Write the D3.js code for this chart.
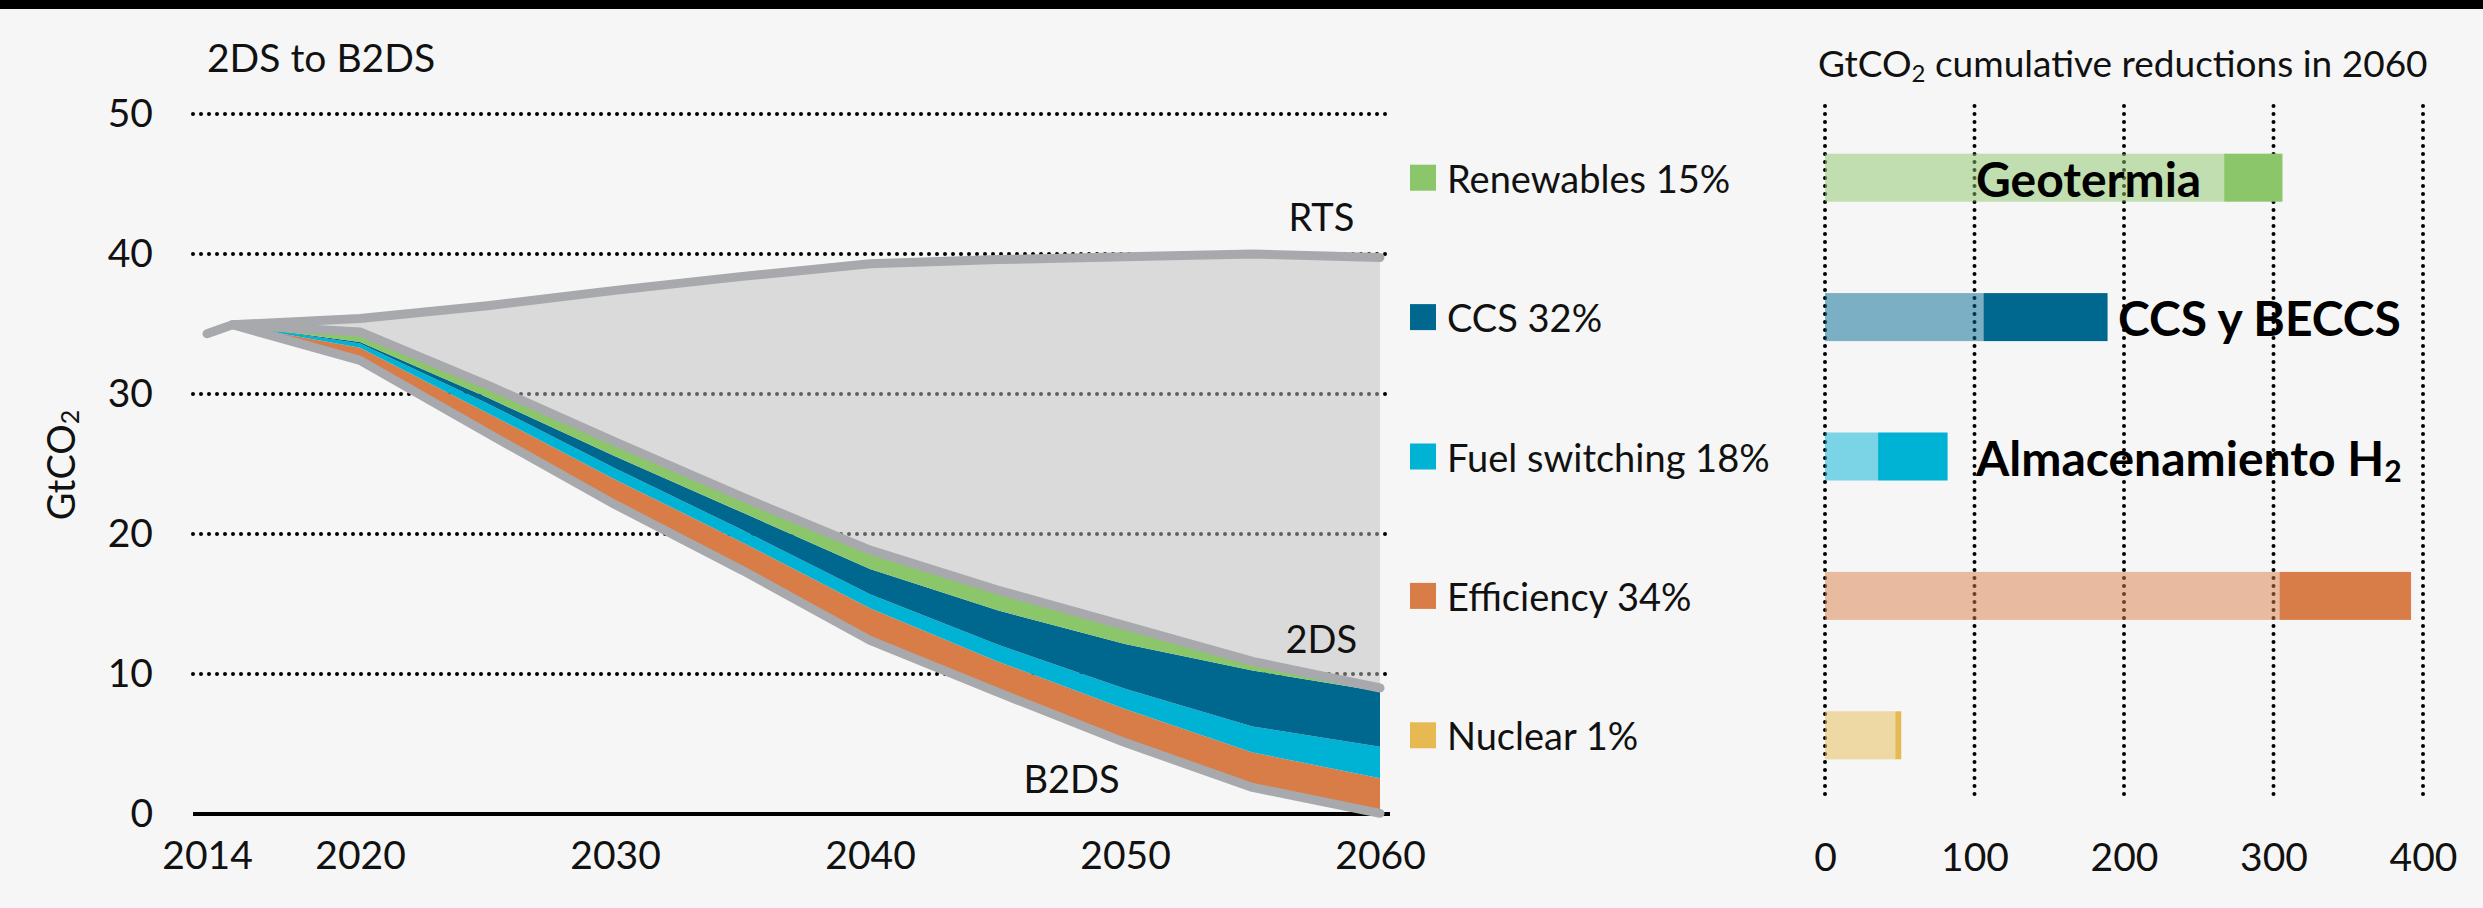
<!DOCTYPE html>
<html>
<head>
<meta charset="utf-8">
<script src="https://cdn.jsdelivr.net/npm/d3@7"></script>
<style>
  body { margin: 0; background: #f6f6f6; }
  svg { display: block; font-family: Lato, "Open Sans", sans-serif; }
</style>
</head>
<body>
<div id="graph"></div>
<script>
const width = 2483,
      height = 908

// left panel: emissions pathways, GtCO2
const years = [2014, 2015, 2020, 2025, 2030, 2035, 2040, 2045, 2050, 2055, 2060]
const rts = [34.3, 34.95, 35.4, 36.3, 37.4, 38.4, 39.3, 39.6, 39.8, 40.0, 39.75]
const b2ds = [34.3, 34.95, 32.4, 27.2, 22.1, 17.4, 12.4, 8.7, 5.1, 1.9, 0.05]
const efficiency = [0, 0, 0.9, 1.45, 1.8, 2.0, 2.3, 2.2, 2.4, 2.5, 2.5]
const fuel_switching = [0, 0, 0.31, 0.68, 0.8, 0.88, 1.0, 1.2, 1.45, 1.85, 2.25]
const ccs = [0, 0, 0.1, 0.42, 0.85, 1.25, 1.8, 2.45, 3.2, 4.0, 3.95]
const renewables = [0, 0, 0.7, 0.85, 1.0, 1.05, 1.3, 1.4, 1.25, 0.6, 0.2]
const nuclear = [0, 0, 0.02, 0.03, 0.04, 0.05, 0.05, 0.05, 0.05, 0.05, 0.05]

const y_ticks = [0, 10, 20, 30, 40, 50]
const x_ticks = [2014, 2020, 2030, 2040, 2050, 2060]

// right panel: cumulative reductions in 2060, GtCO2
const measures = ["Renewables", "CCS", "Fuel switching", "Efficiency", "Nuclear"]
const shares = ["15%", "32%", "18%", "34%", "1%"]
const reductions_light = [267, 106, 35.5, 304, 47]
const reductions_total = [306, 189, 82, 392, 51]
const r_ticks = [0, 100, 200, 300, 400]
const callouts = ["Geotermia", "CCS y BECCS", "Almacenamiento H", null, null]
const callout_at = [101, 196, 101, null, null]

const colors = {
    efficiency: "#d97d48",
    fuel_switching: "#00b2d3",
    ccs: "#00678f",
    renewables: "#8cc66a",
    nuclear: "#e6b952"
}
const measure_color = [colors.renewables, colors.ccs, colors.fuel_switching, colors.efficiency, colors.nuclear]
const line_gray = "#a7a9ac"

const svg = d3.select("#graph")
    .append("svg")
    .attr("width", width)
    .attr("height", height)

svg.append("rect").attr("width", width).attr("height", height).attr("fill", "#f6f6f6")
svg.append("rect").attr("width", width).attr("height", 9).attr("fill", "#000")

// ---------- left panel ----------
const x = d3.scaleLinear().domain([2014, 2060]).range([207, 1380])
const y = d3.scaleLinear().domain([0, 50]).range([814, 114])

const rows = years.map((year, i) => ({
    year,
    rts: rts[i],
    base: b2ds[i],
    efficiency: efficiency[i],
    fuel_switching: fuel_switching[i],
    ccs: ccs[i],
    renewables: renewables[i],
    nuclear: nuclear[i]
}))
const keys = ["base", "efficiency", "fuel_switching", "ccs", "renewables", "nuclear"]
const stacked = d3.stack().keys(keys)(rows)
const top_layer = stacked[stacked.length - 1]
rows.forEach((d, i) => d.two_ds = top_layer[i][1])

svg.append("g")
    .selectAll("line")
    .data(y_ticks.filter(d => d > 0))
    .join("line")
    .attr("x1", 193)
    .attr("x2", 1386)
    .attr("y1", d => y(d))
    .attr("y2", d => y(d))
    .attr("stroke", "#000")
    .attr("stroke-width", 4)
    .attr("stroke-linecap", "round")
    .attr("stroke-dasharray", "0,8")

const after_2015 = rows.filter(d => d.year >= 2015)

svg.append("path")
    .datum(after_2015)
    .attr("fill", "#bebebe")
    .attr("fill-opacity", 0.5)
    .attr("d", d3.area()
        .x(d => x(d.year))
        .y0(d => y(d.two_ds))
        .y1(d => y(d.rts)))

svg.append("g")
    .selectAll("path")
    .data(stacked.slice(1))
    .join("path")
    .attr("fill", d => colors[d.key])
    .attr("d", d3.area()
        .x(d => x(d.data.year))
        .y0(d => y(d[0]))
        .y1(d => y(d[1])))

svg.append("line")
    .attr("x1", 193)
    .attr("x2", 1390)
    .attr("y1", y(0))
    .attr("y2", y(0))
    .attr("stroke", "#000")
    .attr("stroke-width", 4)

const draw_line = (data, value) => svg.append("path")
    .datum(data)
    .attr("fill", "none")
    .attr("stroke", line_gray)
    .attr("stroke-width", 9)
    .attr("stroke-linecap", "round")
    .attr("stroke-linejoin", "round")
    .attr("d", d3.line().x(d => x(d.year)).y(d => y(value(d))))

draw_line(after_2015, d => d.base)
draw_line(after_2015, d => d.two_ds)
draw_line(rows, d => d.rts)

const y_axis = svg.append("g")
    .attr("transform", `translate(193, 0)`)
    .call(d3.axisLeft(y).tickValues(y_ticks).tickSize(0).tickPadding(40))
y_axis.select(".domain").remove()

const x_axis = svg.append("g")
    .attr("transform", `translate(0, ${y(0)})`)
    .call(d3.axisBottom(x).tickValues(x_ticks).tickFormat(d3.format("d")).tickSize(0).tickPadding(27))
x_axis.select(".domain").remove()

svg.selectAll(".tick text")
    .attr("font-family", "Lato, sans-serif")
    .attr("font-size", 39)
    .attr("fill", "#111")

svg.append("text")
    .attr("x", 207)
    .attr("y", 57)
    .attr("dominant-baseline", "central")
    .attr("font-size", 39)
    .attr("fill", "#111")
    .text("2DS to B2DS")

const y_title = svg.append("text")
    .attr("transform", `translate(60, 465) rotate(-90)`)
    .attr("text-anchor", "middle")
    .attr("dominant-baseline", "central")
    .attr("font-size", 38)
    .attr("fill", "#111")
y_title.append("tspan").text("GtCO")
y_title.append("tspan").attr("font-size", 25).attr("dy", 9).text("2")

const last = rows[rows.length - 1]
const scenario_labels = [
    { text: "RTS", year: 2057.7, value: last.rts + 3 },
    { text: "2DS", year: 2057.7, value: last.two_ds + 3.6 },
    { text: "B2DS", year: 2047.9, value: 2.6 }
]
svg.append("g")
    .selectAll("text")
    .data(scenario_labels)
    .join("text")
    .attr("x", d => x(d.year))
    .attr("y", d => y(d.value))
    .attr("text-anchor", "middle")
    .attr("dominant-baseline", "central")
    .attr("font-size", 38)
    .attr("fill", "#111")
    .text(d => d.text)

// ---------- right panel ----------
const xr = d3.scaleLinear().domain([0, 400]).range([1825, 2423])
const yr = d3.scalePoint().domain(measures).range([108, 805]).padding(0.5)
const bar_h = 48

svg.append("g")
    .selectAll("line")
    .data(r_ticks)
    .join("line")
    .attr("x1", d => xr(d))
    .attr("x2", d => xr(d))
    .attr("y1", 106)
    .attr("y2", 802)
    .attr("stroke", "#000")
    .attr("stroke-width", 4)
    .attr("stroke-linecap", "round")
    .attr("stroke-dasharray", "0,8")

svg.append("g")
    .selectAll("rect")
    .data(measures)
    .join("rect")
    .attr("x", xr(0))
    .attr("y", d => yr(d) - bar_h / 2)
    .attr("width", (d, i) => xr(reductions_light[i]) - xr(0))
    .attr("height", bar_h)
    .attr("fill", (d, i) => measure_color[i])
    .attr("fill-opacity", 0.5)

svg.append("g")
    .selectAll("rect")
    .data(measures)
    .join("rect")
    .attr("x", (d, i) => xr(reductions_light[i]))
    .attr("y", d => yr(d) - bar_h / 2)
    .attr("width", (d, i) => xr(reductions_total[i]) - xr(reductions_light[i]))
    .attr("height", bar_h)
    .attr("fill", (d, i) => measure_color[i])

const r_axis = svg.append("g")
    .attr("transform", `translate(0, 802)`)
    .call(d3.axisBottom(xr).tickValues(r_ticks).tickSize(0).tickPadding(41))
r_axis.select(".domain").remove()
r_axis.selectAll(".tick text")
    .attr("font-family", "Lato, sans-serif")
    .attr("font-size", 39)
    .attr("fill", "#111")

const r_title = svg.append("text")
    .attr("x", 1818)
    .attr("y", 62)
    .attr("dominant-baseline", "central")
    .attr("font-size", 37)
    .attr("fill", "#111")
r_title.append("tspan").text("GtCO")
r_title.append("tspan").attr("font-size", 24).attr("dy", 10).text("2")
r_title.append("tspan").attr("dy", -10).text(" cumulative reductions in 2060")

// legend
const legend = svg.append("g")
    .selectAll("g")
    .data(measures)
    .join("g")
    .attr("transform", d => `translate(1410, ${yr(d)})`)
legend.append("rect")
    .attr("y", -13)
    .attr("width", 26)
    .attr("height", 26)
    .attr("fill", (d, i) => measure_color[i])
legend.append("text")
    .attr("x", 37)
    .attr("dominant-baseline", "central")
    .attr("font-size", 38)
    .attr("fill", "#111")
    .text((d, i) => `${d} ${shares[i]}`)

// callouts on the bars
const callout_text = svg.append("g")
    .selectAll("text")
    .data(measures.filter((d, i) => callouts[i]))
    .join("text")
    .attr("x", d => xr(callout_at[measures.indexOf(d)]))
    .attr("y", d => yr(d))
    .attr("dominant-baseline", "central")
    .attr("font-size", 48)
    .attr("font-weight", "bold")
    .attr("fill", "#000")
callout_text.append("tspan").text(d => callouts[measures.indexOf(d)])
callout_text.filter(d => d === "Fuel switching")
    .append("tspan")
    .attr("font-size", 30)
    .attr("dy", 13)
    .text("2")
</script>
</body>
</html>
